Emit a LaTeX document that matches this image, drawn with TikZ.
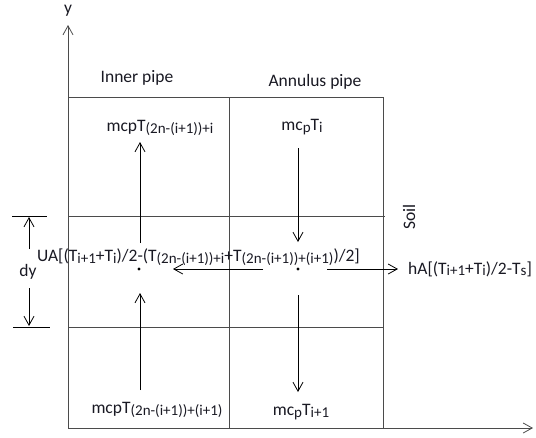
\documentclass[tikz,border=0pt]{standalone}
\usepackage{fontspec}
\setmainfont{Carlito}
\usetikzlibrary{arrows.meta}
\definecolor{gridc}{RGB}{75,75,75}
\definecolor{txtc}{RGB}{25,25,35}
\newcommand\sbx[1]{\raisebox{-1.6pt}{\fontsize{15}{16}\selectfont #1}}
\begin{document}
\begin{tikzpicture}[x=1pt,y=-1pt,
  gridline/.style={draw=gridc, line width=0.9pt},
  arr/.style={-{Straight Barb[length=9pt,width=10pt]}, line width=0.8pt, black},
  lab/.style={font=\fontsize{17.5}{19}\selectfont, inner sep=0pt, text=txtc},
  dotnode/.style={circle, fill=black, inner sep=0pt, minimum size=3.2pt}]
\useasboundingbox (0,0) rectangle (536,437);
% axes
\coordinate (O) at (68,428);
\coordinate (ytop) at (68,25);
\coordinate (xend) at (533,428);
\draw[arr, draw=gridc] (O) -- (ytop);
\draw[arr, draw=gridc] (O) -- (xend);
\node[lab] (ylab) at (68,11) {y};
% grid
\draw[gridline] (68,97) rectangle (383,428);
\draw[gridline] (229,97) -- (229,428);
\draw[gridline] (68,216) -- (385,216);
\draw[gridline] (68,327) -- (383,327);
% headings
\node[lab] (inner) at (137,78) {Inner pipe};
\node[lab] (annulus) at (315,82) {Annulus pipe};
% flow labels
\node[lab] (t1) at (160,128) {mcpT\sbx{(2n-(i+1))+i}};
\node[lab] (t2) at (302,127) {mc\sbx{p}T\sbx{i}};
\node[lab] (t3) at (157,410) {mcpT\sbx{(2n-(i+1))+(i+1)}};
\node[lab] (t4) at (301,412) {mc\sbx{p}T\sbx{i+1}};
\node[lab, anchor=west] (ua) at (37,257) {UA[(T\sbx{i+1}+T\sbx{i})/2-(T\sbx{(2n-(i+1))+i}+T\sbx{(2n-(i+1))+(i+1)})/2]};
\node[lab, anchor=west] (ha) at (408,269) {hA[(T\sbx{i+1}+T\sbx{i})/2-T\sbx{s}]};
\node[lab, rotate=90] (soil) at (409,217) {Soil};
\node[lab] (dy) at (28,272) {dy};
% centre dots
\node[dotnode] (d1) at (139,269) {};
\node[dotnode] (d2) at (298,269) {};
% arrows
\coordinate (a1s) at (140,243); \coordinate (a1e) at (140,142);
\coordinate (a2s) at (140,390); \coordinate (a2e) at (140,293);
\coordinate (a3s) at (298,148); \coordinate (a3e) at (298,242);
\coordinate (a4s) at (298,295); \coordinate (a4e) at (298,392);
\coordinate (a5s) at (263,269); \coordinate (a5e) at (173,269);
\coordinate (a6s) at (327,269); \coordinate (a6e) at (398,269);
\draw[arr] (a1s) -- (a1e);
\draw[arr] (a2s) -- (a2e);
\draw[arr] (a3s) -- (a3e);
\draw[arr] (a4s) -- (a4e);
\draw[arr] (a5s) -- (a5e);
\draw[arr] (a6s) -- (a6e);
% dy dimension
\coordinate (dt1) at (12,216); \coordinate (dt2) at (47,216);
\coordinate (db1) at (13,327); \coordinate (db2) at (50,327);
\draw[line width=0.8pt] (dt1) -- (dt2);
\draw[line width=0.8pt] (db1) -- (db2);
\coordinate (dus) at (29,249); \coordinate (due) at (29,217);
\coordinate (dds) at (29,288); \coordinate (dde) at (29,326);
\draw[arr] (dus) -- (due);
\draw[arr] (dds) -- (dde);
\end{tikzpicture}
\end{document}
